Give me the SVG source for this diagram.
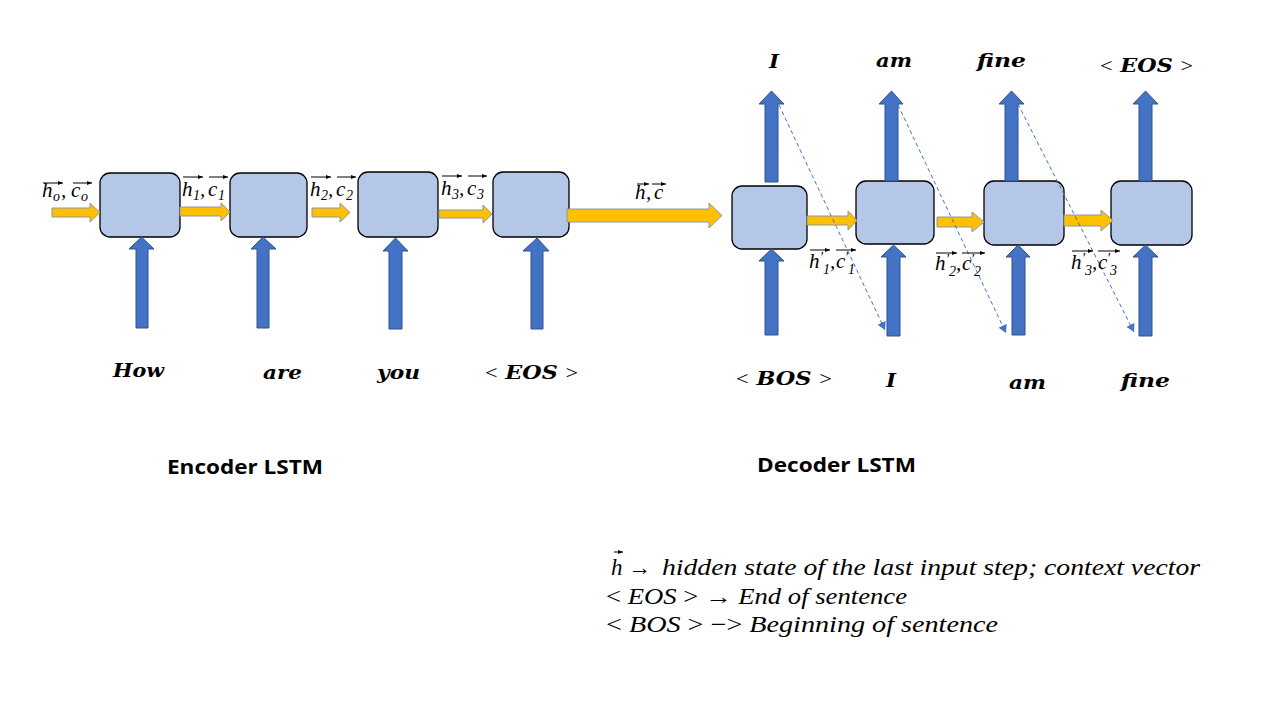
<svg xmlns="http://www.w3.org/2000/svg" width="1280" height="720" viewBox="0 0 1280 720">
<defs>
<style>
.box{fill:#B4C7E7;stroke:#000;stroke-width:1.3}
.org{fill:#FFC000;stroke:#8C96A8;stroke-width:1}
.blu{fill:#4472C4;stroke:#2F528F;stroke-width:1}
.m{font-family:"Liberation Serif",serif;font-style:italic;font-size:21px;fill:#000}
.sub{font-size:14px}
.w{font-family:"DejaVu Serif",serif;font-style:italic;font-weight:bold;font-size:19px;fill:#000}
.lt{font-weight:normal;font-style:normal;font-family:"Liberation Serif",serif}
.ttl{font-family:"Open Sans",sans-serif;font-weight:bold;font-size:20px;fill:#000}
.leg{font-family:"Liberation Serif",serif;font-style:italic;font-size:23px;fill:#000}
.ov{stroke:#000;stroke-width:1;fill:none;marker-end:url(#oa)}
.dash{stroke:#4472C4;stroke-width:1;stroke-dasharray:4 3;fill:none;marker-end:url(#da)}
</style>
<marker id="oa" markerWidth="6" markerHeight="6" refX="5" refY="3" orient="auto" markerUnits="userSpaceOnUse"><path d="M0,1 L5,3 L0,5 Z" fill="#000"/></marker>
<marker id="da" markerWidth="9" markerHeight="9" refX="8" refY="4.5" orient="auto" markerUnits="userSpaceOnUse"><path d="M0,0 L8,4.5 L0,9 Z" fill="#4472C4"/></marker>
</defs>
<rect width="1280" height="720" fill="#fff"/>

<g id="encoder">
<g id="enc1"><rect class="box" x="100" y="173" width="80" height="64" rx="10"/></g>
<g id="enc2"><rect class="box" x="230" y="173" width="77" height="64" rx="10"/></g>
<g id="enc3"><rect class="box" x="358" y="172" width="80" height="65" rx="10"/></g>
<g id="enc4"><rect class="box" x="493" y="172" width="76" height="65" rx="10"/></g>
</g>
<g id="decoder">
<g id="dec1"><rect class="box" x="732" y="186" width="75" height="63" rx="10"/></g>
<g id="dec2"><rect class="box" x="856" y="181" width="78" height="63" rx="10"/></g>
<g id="dec3"><rect class="box" x="984" y="181" width="80" height="64" rx="10"/></g>
<g id="dec4"><rect class="box" x="1111" y="181" width="81" height="64" rx="10"/></g>
</g>

<g id="connectors">
<polygon class="org" points="52,208 90,208 90,203 100,212.5 90,222 90,217 52,217"/>
<polygon class="org" points="180,207 221,207 221,203 230,212 221,221 221,216 180,216"/>
<polygon class="org" points="312,208 340,208 340,203 350,212.5 340,222 340,217 312,217"/>
<polygon class="org" points="439,210 483,210 483,205 492,214 483,223 483,218 439,218"/>
<polygon class="org" points="567,209 709,209 709,203 722,215.5 709,228 709,222 567,222"/>
<polygon class="org" points="807,216 848,216 848,211 857,220.5 848,230 848,225 807,225"/>
<polygon class="org" points="937,217 972,217 972,212 984,222 972,232 972,227 937,227"/>
<polygon class="org" points="1064,215 1101,215 1101,210 1113,220.5 1101,231 1101,226 1064,226"/>
<polygon class="blu" points="136,328 136,249 129,249 141.5,237 154,249 148,249 148,328"/>
<polygon class="blu" points="257,328 257,249 251,249 263,237 276,249 269,249 269,328"/>
<polygon class="blu" points="389,329 389,251 383,251 395.5,238 408,251 402,251 402,329"/>
<polygon class="blu" points="531,329 531,251 523,251 537,238 549,251 543,251 543,329"/>
<polygon class="blu" points="765,335 765,261 759,261 771.5,249 784,261 778,261 778,335"/>
<polygon class="blu" points="887,336 887,257 881,257 893.5,245 906,257 900,257 900,336"/>
<polygon class="blu" points="1012,335 1012,257 1006,257 1018,245 1030,257 1025,257 1025,335"/>
<polygon class="blu" points="1139,336 1139,257 1133,257 1145.5,245 1158,257 1152,257 1152,336"/>
<polygon class="blu" points="765,182 765,104 759,104 771.5,91 784,104 778,104 778,182"/>
<polygon class="blu" points="885,181 885,104 879,104 891.5,91 903,104 898,104 898,181"/>
<polygon class="blu" points="1005,181 1005,104 999,104 1011.5,91 1024,104 1018,104 1018,181"/>
<polygon class="blu" points="1139,181 1139,104 1133,104 1145.5,91 1158,104 1152,104 1152,181"/>
<line class="dash" x1="779" y1="105" x2="885" y2="330"/>
<line class="dash" x1="898" y1="105" x2="1006" y2="333"/>
<line class="dash" x1="1018" y1="104" x2="1134" y2="332"/>
</g>

<g id="state-labels">
<text class="m"><tspan x="42" y="197">h</tspan><tspan class="sub" x="53" y="201">o</tspan><tspan x="61" y="197">,</tspan><tspan x="71" y="197">c</tspan><tspan class="sub" x="81" y="201">o</tspan></text>
<line class="ov" x1="43" y1="183" x2="63" y2="183"/><line class="ov" x1="73" y1="183" x2="92" y2="183"/>
<text class="m"><tspan x="182" y="196">h</tspan><tspan class="sub" x="193" y="200">1</tspan><tspan x="200" y="196">,</tspan><tspan x="208" y="196">c</tspan><tspan class="sub" x="218" y="200">1</tspan></text>
<line class="ov" x1="183" y1="177" x2="203" y2="177"/><line class="ov" x1="209" y1="177" x2="228" y2="177"/>
<text class="m"><tspan x="310" y="196">h</tspan><tspan class="sub" x="321" y="200">2</tspan><tspan x="328" y="196">,</tspan><tspan x="336" y="196">c</tspan><tspan class="sub" x="346" y="200">2</tspan></text>
<line class="ov" x1="311" y1="177" x2="331" y2="177"/><line class="ov" x1="337" y1="177" x2="356" y2="177"/>
<text class="m"><tspan x="441" y="195">h</tspan><tspan class="sub" x="452" y="199">3</tspan><tspan x="459" y="195">,</tspan><tspan x="467" y="195">c</tspan><tspan class="sub" x="477" y="199">3</tspan></text>
<line class="ov" x1="442" y1="176" x2="462" y2="176"/><line class="ov" x1="468" y1="176" x2="487" y2="176"/>
<text class="m"><tspan x="635" y="199">h</tspan><tspan x="646" y="199">,</tspan><tspan x="654" y="199">c</tspan></text>
<line class="ov" x1="637" y1="184" x2="649" y2="184"/><line class="ov" x1="652" y1="184" x2="666" y2="184"/>
<text class="m"><tspan x="809" y="268">h</tspan><tspan class="sub" x="820" y="262">′</tspan><tspan class="sub" x="823" y="274">1</tspan><tspan x="830" y="268">,</tspan><tspan x="836" y="268">c</tspan><tspan class="sub" x="845" y="262">′</tspan><tspan class="sub" x="848" y="274">1</tspan></text>
<line class="ov" x1="810" y1="250" x2="830" y2="250"/><line class="ov" x1="836" y1="250" x2="856" y2="250"/>
<text class="m"><tspan x="935" y="270">h</tspan><tspan class="sub" x="946" y="264">′</tspan><tspan class="sub" x="949" y="276">2</tspan><tspan x="956" y="270">,</tspan><tspan x="962" y="270">c</tspan><tspan class="sub" x="971" y="264">′</tspan><tspan class="sub" x="974" y="276">2</tspan></text>
<line class="ov" x1="936" y1="253" x2="957" y2="253"/><line class="ov" x1="962" y1="253" x2="985" y2="253"/>
<text class="m"><tspan x="1071" y="269">h</tspan><tspan class="sub" x="1082" y="263">′</tspan><tspan class="sub" x="1085" y="275">3</tspan><tspan x="1092" y="269">,</tspan><tspan x="1098" y="269">c</tspan><tspan class="sub" x="1107" y="263">′</tspan><tspan class="sub" x="1110" y="275">3</tspan></text>
<line class="ov" x1="1072" y1="251" x2="1093" y2="251"/><line class="ov" x1="1098" y1="251" x2="1120" y2="251"/>
</g>

<g id="word-labels">
<text class="w" x="113" y="377" textLength="51" lengthAdjust="spacingAndGlyphs">How</text>
<text class="w" x="263" y="379" textLength="39" lengthAdjust="spacingAndGlyphs">are</text>
<text class="w" x="377" y="379" textLength="43" lengthAdjust="spacingAndGlyphs">you</text>
<text class="w" x="485" y="379" textLength="93" lengthAdjust="spacingAndGlyphs"><tspan class="lt">&lt;</tspan> EOS <tspan class="lt">&gt;</tspan></text>
<text class="w" x="736" y="385" textLength="96" lengthAdjust="spacingAndGlyphs"><tspan class="lt">&lt;</tspan> BOS <tspan class="lt">&gt;</tspan></text>
<text class="w" x="886" y="387" textLength="10" lengthAdjust="spacingAndGlyphs">I</text>
<text class="w" x="1009" y="389" textLength="37" lengthAdjust="spacingAndGlyphs">am</text>
<text class="w" x="1121" y="387" textLength="49" lengthAdjust="spacingAndGlyphs">fine</text>
<text class="w" x="769" y="68" textLength="10" lengthAdjust="spacingAndGlyphs">I</text>
<text class="w" x="876" y="67" textLength="36" lengthAdjust="spacingAndGlyphs">am</text>
<text class="w" x="977" y="67" textLength="49" lengthAdjust="spacingAndGlyphs">fine</text>
<text class="w" x="1100" y="72" textLength="93" lengthAdjust="spacingAndGlyphs"><tspan class="lt">&lt;</tspan> EOS <tspan class="lt">&gt;</tspan></text>
</g>

<g id="titles">
<text class="ttl" x="167" y="474" textLength="156" lengthAdjust="spacingAndGlyphs">Encoder LSTM</text>
<text class="ttl" x="757" y="472" textLength="159" lengthAdjust="spacingAndGlyphs">Decoder LSTM</text>
</g>

<g id="legend">
<text class="leg" x="611" y="575">h</text>
<line class="ov" x1="614" y1="552" x2="623" y2="552"/>
<text class="leg" x="628" y="575" style="font-style:normal">→</text>
<text class="leg" x="662" y="575" textLength="538" lengthAdjust="spacingAndGlyphs">hidden state of the last input step; context vector</text>
<text class="leg" x="606" y="604" textLength="301" lengthAdjust="spacingAndGlyphs"><tspan style="font-style:normal">&lt;</tspan> EOS <tspan style="font-style:normal">&gt; →</tspan> End of sentence</text>
<text class="leg" x="606" y="632" textLength="392" lengthAdjust="spacingAndGlyphs"><tspan style="font-style:normal">&lt;</tspan> BOS <tspan style="font-style:normal">&gt; −&gt;</tspan>  Beginning of sentence</text>
</g>
</svg>
